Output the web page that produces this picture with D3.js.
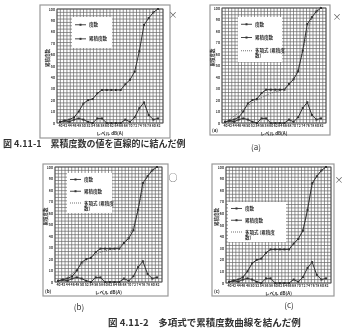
<!DOCTYPE html>
<html>
<head>
<meta charset="utf-8">
<script src="https://cdn.jsdelivr.net/npm/d3@7"></script>
<style>
  body { margin: 0; background: #fff; }
  svg { display: block; }
  text { font-family: "Noto Sans CJK JP", "Noto Sans", sans-serif; fill: #333; }
</style>
</head>
<body>
<div id="chart"></div>
<script>
// levels on the x axis (dB)
const levels = ['40', '42', '44', '46', '48', '50', '52', '54', '56', '58', '60',
  '62', '64', '66', '68', '70', '72', '74', '76', '78', '80', '82'];
// 度数
const freq = [1, 2, 1, 3, 4, 3, 1, 0, 4, 4, 0, 0, 0, 0, 3, 1, 5, 13, 18, 7, 3, 4];
// 累積度数
const cum = [1, 2, 3, 5, 10, 17, 20, 21, 26, 29, 29, 29, 29, 29, 34, 38, 45, 63, 86, 92, 97, 100];
// 多項式 (累積度数) as drawn in (a), (b), (c)
const polyA = [0, 3, 6, 9, 12, 15, 18, 20, 22, 24, 26, 27, 28, 30, 33, 38, 47, 62, 80, 92, 98, 101];
const polyB = [0, 2, 4, 7, 11, 15, 19, 22, 24, 26, 27, 28, 29, 31, 34, 39, 48, 63, 82, 93, 98, 100];
const polyC = [1, 2, 3, 5, 10, 17, 20, 21, 26, 29, 29, 29, 29, 29, 34, 38, 45, 63, 86, 92, 97, 100];
const yTicks = [0, 10, 20, 30, 40, 50, 60, 70, 80, 90, 100];

const panels = [
  { frame: [40, 5, 170, 138], plot: [57, 9, 163, 123], poly: null, legend: [72, 17, 40, 31], mark: '×', markAt: [173, 18], tag: null },
  { frame: [210, 5, 330, 135], plot: [222, 8, 326, 123], poly: polyA, legend: [238, 17, 44, 45], mark: '×', markAt: [337, 20], tag: '(a)' },
  { frame: [43, 164, 168, 296], plot: [55, 167, 162, 282], poly: polyB, legend: [67, 173, 45, 40], mark: '○', markAt: [173, 181], tag: '(b)' },
  { frame: [212, 164, 334, 296], plot: [226, 167, 331, 283], poly: polyC, legend: [228, 202, 58, 40], mark: '×', markAt: [339, 183], tag: '(c)' },
];

const svg = d3.select('#chart').append('svg')
  .attr('width', 346).attr('height', 331);

svg.append('defs').append('filter').attr('id', 'scan')
  .append('feGaussianBlur').attr('stdDeviation', 0.45);

const root = svg.append('g').attr('filter', 'url(#scan)');

function drawPanel(p) {
  const [fx0, fy0, fx1, fy1] = p.frame;
  const [px0, py0, px1, py1] = p.plot;
  const g = root.append('g');

  g.append('rect')
    .attr('x', fx0).attr('y', fy0)
    .attr('width', fx1 - fx0).attr('height', fy1 - fy0)
    .attr('fill', '#fff').attr('stroke', '#999').attr('stroke-width', 1.2);

  const x = d3.scalePoint().domain(levels).range([px0 + 3, px1 - 5]);
  const y = d3.scaleLinear().domain([0, 100]).range([py1, py0]);

  // dense graph-paper grid
  const gx = d3.scaleLinear().domain([0, 32]).range([px0, px1]);
  g.append('g').selectAll('line').data(d3.range(0, 33)).join('line')
    .attr('x1', (d) => gx(d)).attr('x2', (d) => gx(d))
    .attr('y1', py0).attr('y2', py1)
    .attr('stroke', '#666').attr('stroke-width', 0.7);
  g.append('g').selectAll('line').data(d3.range(0, 100.01, 100 / 34)).join('line')
    .attr('x1', px0).attr('x2', px1)
    .attr('y1', (d) => y(d)).attr('y2', (d) => y(d))
    .attr('stroke', '#666').attr('stroke-width', 0.7);

  g.append('rect')
    .attr('x', px0).attr('y', py0)
    .attr('width', px1 - px0).attr('height', py1 - py0)
    .attr('fill', 'none').attr('stroke', '#444').attr('stroke-width', 0.8);

  g.append('g')
    .attr('transform', `translate(${px0},0)`)
    .call(d3.axisLeft(y).tickValues(yTicks).tickSize(0).tickPadding(2))
    .call((a) => a.select('.domain').remove())
    .selectAll('text').style('font-size', '3.5px').style('font-weight', 'bold');

  g.append('g')
    .attr('transform', `translate(0,${py1})`)
    .call(d3.axisBottom(x).tickSize(0).tickPadding(2))
    .call((a) => a.select('.domain').remove())
    .selectAll('text').style('font-size', '3.5px').style('font-weight', 'bold');

  g.append('text')
    .attr('x', (px0 + px1) / 2).attr('y', py1 + 12)
    .attr('text-anchor', 'middle')
    .style('font-size', '4.5px').style('font-weight', 'bold')
    .text('レベル  dB(A)');

  g.append('text')
    .attr('transform', `translate(${px0 - 8},${(py0 + py1) / 2 - 8}) rotate(-90)`)
    .attr('text-anchor', 'middle')
    .style('font-size', '4.5px').style('font-weight', 'bold')
    .text('累積度数');

  if (p.tag) {
    g.append('text')
      .attr('x', fx0 + 2).attr('y', fy1 - 3)
      .style('font-size', '4.5px').style('font-weight', 'bold')
      .text(p.tag);
  }

  const line = d3.line().x((d, i) => x(levels[i])).y((d) => y(d));

  if (p.poly) {
    g.append('path').datum(p.poly)
      .attr('d', line.curve(d3.curveBasis))
      .attr('fill', 'none').attr('stroke', '#555')
      .attr('stroke-width', 0.8).attr('stroke-dasharray', '1,1');
    line.curve(d3.curveLinear);
  }

  [cum, freq].forEach((series) => {
    g.append('path').datum(series)
      .attr('d', line)
      .attr('fill', 'none').attr('stroke', '#333').attr('stroke-width', 1);
    g.append('g').selectAll('rect').data(series).join('rect')
      .attr('x', (d, i) => x(levels[i]) - 1).attr('y', (d) => y(d) - 1)
      .attr('width', 2).attr('height', 2)
      .attr('fill', '#333');
  });

  // legend
  const [lx, ly, lw, lh] = p.legend;
  const lg = g.append('g');
  lg.append('rect')
    .attr('x', lx).attr('y', ly).attr('width', lw).attr('height', lh)
    .attr('fill', '#fff');
  const entries = p.poly ? ['度数', '累積度数', '多項式 (累積度数)'] : ['度数', '累積度数'];
  const step = p.poly ? lh / 3.4 : lh / 2.2;
  entries.forEach((name, i) => {
    const ey = ly + step * (i + 0.55);
    lg.append('line')
      .attr('x1', lx + 3).attr('x2', lx + 14)
      .attr('y1', ey).attr('y2', ey)
      .attr('stroke', '#333').attr('stroke-width', i === 2 ? 0.7 : 0.9)
      .attr('stroke-dasharray', i === 2 ? '1,1' : null);
    if (i < 2) {
      lg.append('rect')
        .attr('x', lx + 7.5).attr('y', ey - 1).attr('width', 2).attr('height', 2)
        .attr('fill', '#333');
    }
    const t = lg.append('text')
      .attr('x', lx + 17).attr('y', ey + 1.6)
      .style('font-size', '4.5px').style('font-weight', 'bold');
    if (i === 2) {
      t.append('tspan').text('多項式 (累積度');
      t.append('tspan').attr('x', lx + 17).attr('dy', 5).text('数)');
    } else {
      t.text(name);
    }
  });

  root.append('text')
    .attr('x', p.markAt[0]).attr('y', p.markAt[1])
    .attr('text-anchor', 'middle')
    .style('font-size', '9px').style('fill', '#555')
    .text(p.mark);
}

panels.forEach(drawPanel);

root.append('text')
  .attr('x', 3).attr('y', 146.5)
  .style('font-size', '9px').style('font-weight', 'bold')
  .text('図 4.11-1　累積度数の値を直線的に結んだ例');

root.append('text')
  .attr('x', 256).attr('y', 150)
  .attr('text-anchor', 'middle').style('font-size', '8px')
  .text('(a)');
root.append('text')
  .attr('x', 79).attr('y', 310)
  .attr('text-anchor', 'middle').style('font-size', '8px')
  .text('(b)');
root.append('text')
  .attr('x', 289).attr('y', 308)
  .attr('text-anchor', 'middle').style('font-size', '8px')
  .text('(c)');

root.append('text')
  .attr('x', 108).attr('y', 326)
  .style('font-size', '9.5px').style('font-weight', 'bold')
  .text('図 4.11-2　多項式で累積度数曲線を結んだ例');
</script>
</body>
</html>
